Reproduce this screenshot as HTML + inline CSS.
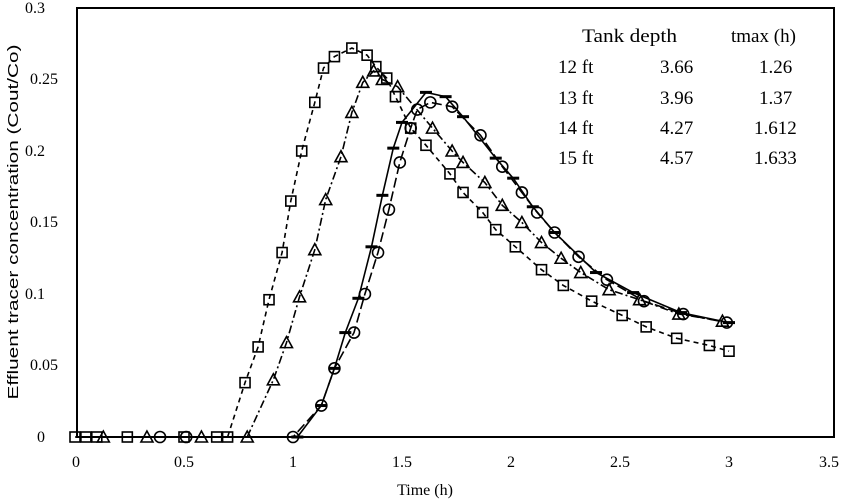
<!DOCTYPE html>
<html><head><meta charset="utf-8"><style>
html,body{margin:0;padding:0;background:#fff}
svg{display:block;font-family:"Liberation Serif",serif}
</style></head><body>
<svg id="c" width="850" height="502" xmlns="http://www.w3.org/2000/svg">
<rect x="77" y="8" width="757" height="429" fill="none" stroke="#000" stroke-width="2"/>
<g font-size="16" text-anchor="end">
<text x="45" y="442">0</text><text x="58" y="370">0.05</text><text x="45" y="299">0.1</text>
<text x="58" y="227">0.15</text><text x="45" y="156">0.2</text><text x="58" y="84">0.25</text><text x="45" y="13">0.3</text>
</g>
<g font-size="16" text-anchor="middle">
<text x="76" y="467">0</text><text x="184" y="467">0.5</text><text x="293" y="467">1</text><text x="402" y="467">1.5</text>
<text x="511" y="467">2</text><text x="620" y="467">2.5</text><text x="729" y="467">3</text><text x="829" y="467">3.5</text>
<text x="425" y="495">Time (h)</text>
</g>
<text transform="translate(18,222) rotate(-90)" text-anchor="middle" font-family="Liberation Sans, sans-serif" font-size="15" textLength="355" lengthAdjust="spacingAndGlyphs">Effluent tracer concentration (Cout/Co)</text>
<g font-size="19">
<text x="582" y="42" textLength="95" lengthAdjust="spacingAndGlyphs">Tank depth</text><text x="731" y="42">tmax (h)</text>
<text x="558" y="73">12 ft</text><text x="660" y="73">3.66</text><text x="759" y="73">1.26</text>
<text x="558" y="104">13 ft</text><text x="660" y="104">3.96</text><text x="759" y="104">1.37</text>
<text x="558" y="134">14 ft</text><text x="660" y="134">4.27</text><text x="754" y="134">1.612</text>
<text x="558" y="164">15 ft</text><text x="660" y="164">4.57</text><text x="754" y="164">1.633</text>
</g>
<g id="g"></g>
</svg>
<script>
const X=t=>75+218*t, Y=c=>437-1430*c;
const sq=[[0,0],[0.05,0],[0.1,0],[0.24,0],[0.5,0],[0.65,0],[0.7,0],[0.78,0.038],[0.84,0.063],[0.89,0.096],[0.95,0.129],[0.99,0.165],[1.04,0.2],[1.1,0.234],[1.14,0.258],[1.19,0.266],[1.27,0.272],[1.34,0.267],[1.38,0.259],[1.43,0.251],[1.47,0.238],[1.54,0.216],[1.61,0.204],[1.72,0.184],[1.78,0.171],[1.87,0.157],[1.93,0.145],[2.02,0.133],[2.14,0.117],[2.24,0.106],[2.37,0.095],[2.51,0.085],[2.62,0.077],[2.76,0.069],[2.91,0.064],[3.0,0.06]];
const tr=[[0.13,0],[0.33,0],[0.58,0],[0.79,0],[0.91,0.04],[0.97,0.066],[1.03,0.098],[1.1,0.131],[1.15,0.166],[1.22,0.196],[1.27,0.227],[1.32,0.248],[1.37,0.256],[1.41,0.25],[1.48,0.245],[1.64,0.216],[1.73,0.2],[1.78,0.192],[1.88,0.178],[1.96,0.162],[2.05,0.15],[2.14,0.136],[2.23,0.125],[2.32,0.115],[2.45,0.103],[2.59,0.096],[2.77,0.086],[2.97,0.081]];
const ci=[[0.39,0],[0.51,0],[1.0,0],[1.13,0.022],[1.19,0.048],[1.28,0.073],[1.33,0.1],[1.39,0.129],[1.44,0.159],[1.49,0.192],[1.54,0.216],[1.57,0.229],[1.63,0.234],[1.73,0.231],[1.86,0.211],[1.96,0.189],[2.05,0.171],[2.12,0.157],[2.2,0.143],[2.31,0.126],[2.44,0.11],[2.61,0.095],[2.79,0.086],[2.99,0.08]];
const da=[[1.02,0],[1.13,0.022],[1.19,0.048],[1.24,0.073],[1.3,0.097],[1.36,0.133],[1.41,0.169],[1.46,0.202],[1.5,0.22],[1.61,0.241],[1.7,0.238],[1.78,0.224],[1.93,0.195],[2.01,0.181],[2.1,0.161],[2.2,0.143],[2.39,0.115],[2.56,0.101],[2.78,0.087],[3.0,0.08]];
let s='';
const line=(d,dash)=>{s+=`<polyline fill="none" stroke="#000" stroke-width="1.6" ${dash?`stroke-dasharray="${dash}"`:''} points="${d.map(p=>X(p[0]).toFixed(1)+','+Y(p[1]).toFixed(1)).join(' ')}"/>`;};
line(sq,'5,4');line(tr,'8,3,2,3');line(ci,'10,4');line(da,'');
sq.forEach(p=>{s+=`<rect x="${X(p[0])-5}" y="${Y(p[1])-5}" width="10" height="10" fill="none" stroke="#000" stroke-width="1.6"/>`;});
tr.forEach(p=>{const x=X(p[0]),y=Y(p[1]);s+=`<polygon points="${x},${y-6} ${x-6},${y+5} ${x+6},${y+5}" fill="none" stroke="#000" stroke-width="1.6"/>`;});
ci.forEach(p=>{s+=`<circle cx="${X(p[0])}" cy="${Y(p[1])}" r="5.5" fill="none" stroke="#000" stroke-width="1.6"/>`;});
da.forEach(p=>{s+=`<rect x="${X(p[0])-6}" y="${Y(p[1])-1.5}" width="12" height="3" fill="#000"/>`;});
document.getElementById('g').innerHTML=s;
</script>
</body></html>
